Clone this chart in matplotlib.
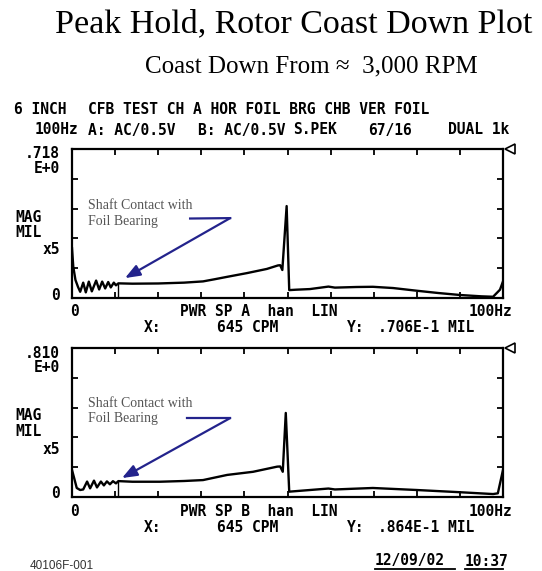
import matplotlib
matplotlib.use("Agg")
import matplotlib.pyplot as plt
from matplotlib.lines import Line2D

W, H = 542, 571

# channel A trace (Hz, MIL)
freq_a = [0, 0.3, 0.8, 1.4, 1.9, 2.6, 3.2, 3.9, 4.6, 5.6, 6.3, 7.0, 7.7, 8.4, 9.0,
          9.7, 10.2, 10.75, 14, 20, 26, 30.4, 33, 36, 40.6, 45.2, 47.8, 48.3, 48.8,
          49.8, 50.4, 52, 55.2, 59.5, 61, 66, 69.8, 74.5, 80, 85, 90, 95, 97.7, 99.3, 100]
val_a = [0.24, 0.15, 0.087, 0.053, 0.030, 0.074, 0.027, 0.079, 0.032, 0.084, 0.041,
         0.079, 0.046, 0.077, 0.051, 0.074, 0.061, 0.0706, 0.069, 0.070, 0.074, 0.080,
         0.090, 0.102, 0.120, 0.140, 0.157, 0.158, 0.135, 0.443, 0.038, 0.040, 0.043,
         0.055, 0.050, 0.053, 0.054, 0.048, 0.035, 0.024, 0.0145, 0.008, 0.006, 0.04, 0.08]

# channel B trace (Hz, MIL)
freq_b = [0, 0.5, 1.1, 1.9, 2.6, 3.5, 4.2, 5.1, 5.8, 6.7, 7.4, 8.1, 8.8, 9.5, 10.2,
          10.75, 14, 20.4, 26, 30.4, 36, 42, 47.6, 48.3, 48.9, 49.6, 50.4, 52, 59.5,
          61, 69.8, 80, 90, 97.7, 98.8, 100]
val_b = [0.147, 0.103, 0.049, 0.038, 0.041, 0.084, 0.047, 0.089, 0.052, 0.084, 0.063,
         0.085, 0.069, 0.086, 0.074, 0.0864, 0.083, 0.083, 0.087, 0.092, 0.12, 0.137,
         0.165, 0.166, 0.137, 0.457, 0.029, 0.032, 0.046, 0.041, 0.049, 0.038, 0.026,
         0.016, 0.02, 0.147]

full_scale = [0.718, 0.810]
scale_labels = [".718", ".810"]
channels = ["A", "B"]
cursor_cpm = 645
cursor_mil = [0.0706, 0.0864]
cursor_text = [".706E-1", ".864E-1"]

HP = dict(family="DejaVu Sans Mono", weight="bold", fontsize=10.5, color="black")
ARROW = "#23238c"


def put(x, y, s, **kw):
    kw.setdefault("va", "center")
    fig.text(x / W, 1 - y / H, s, **kw)


fig = plt.figure(figsize=(W / 100, H / 100), dpi=100)

put(294, 24, "Peak Hold, Rotor Coast Down Plot", family="Liberation Serif",
    fontsize=24.5, ha="center")
put(311, 66, "Coast Down From \u2248  3,000 RPM", family="Liberation Serif",
    fontsize=18, ha="center")

put(14, 110, "6 INCH", **HP)
put(88, 110, "CFB TEST CH A HOR FOIL BRG CHB VER FOIL", **HP)
for x, s in [(35, "100Hz"), (88, "A: AC/0.5V"), (198, "B: AC/0.5V"),
             (293, "S.PEK"), (368, "67/16"), (448, "DUAL 1k")]:
    put(x, 130, s, **HP)

traces = [(freq_a, val_a), (freq_b, val_b)]
tops = [149, 348]
for i, (f, v) in enumerate(traces):
    top = tops[i]
    fs = full_scale[i]
    ax = fig.add_axes([72 / W, 1 - (top + 149) / H, 431 / W, 149 / H])
    ax.plot(f, v, color="black", lw=1.7, solid_joinstyle="round")
    ax.vlines(cursor_cpm / 60, 0, cursor_mil[i], color="black", lw=1.0)
    ax.set_xlim(0, 100)
    ax.set_ylim(0, fs)
    ax.set_xticks(range(0, 101, 10))
    ax.set_yticks([fs * k / 5 for k in range(6)])
    ax.tick_params(direction="in", length=4, width=1.3, top=True, right=True,
                   labelbottom=False, labelleft=False)
    for sp in ax.spines.values():
        sp.set_linewidth(1.6)
    ax.plot([101.6], [fs], marker="<", ms=7, mfc="white", mec="black", mew=1.2,
            clip_on=False)

    # callout
    if i == 0:
        head, corner, start, txt = (12.3, 0.096), (36.7, 0.385), (27.4, 0.383), 0.407
    else:
        head, corner, start, txt = (11.6, 0.103), (36.7, 0.429), (26.7, 0.429), 0.4675
    ax.plot([start[0], corner[0]], [start[1], corner[1]], color=ARROW, lw=1.6)
    ax.annotate("", xy=head, xytext=corner,
                arrowprops=dict(arrowstyle="-|>,head_length=0.9,head_width=0.35",
                                color=ARROW, lw=1.6, shrinkA=0, shrinkB=0))
    ax.text(3.7, txt, "Shaft Contact with\nFoil Bearing",
            family="Liberation Serif", fontsize=10, color="#555555", va="center",
            linespacing=1.25)

    # left labels
    put(60, top + 5, scale_labels[i], ha="right", **HP)
    put(60, top + 19, "E+0", ha="right", **HP)
    put(15, top + 68, "MAG", **HP)
    put(15, top + 83, "MIL", **HP)
    put(60, top + 101, "x5", ha="right", **HP)
    put(60, top + 146, "0", ha="right", **HP)

    # bottom labels
    put(70, top + 163, "0", **HP)
    put(180, top + 163, "PWR SP %s  han  LIN" % channels[i], **HP)
    put(512, top + 163, "100Hz", ha="right", **HP)
    put(144, top + 179, "X:", **HP)
    put(217, top + 179, "%d CPM" % cursor_cpm, **HP)
    put(347, top + 179, "Y:", **HP)
    put(378, top + 179, "%s MIL" % cursor_text[i], **HP)

put(30, 566, "40106F-001", family="Liberation Sans", fontsize=8.5, color="#333333")
put(375, 561, "12/09/02", **HP)
put(465, 561, "10:37", **HP)
for x0, x1 in [(375, 455), (465, 503)]:
    fig.add_artist(Line2D([x0 / W, x1 / W], [1 - 569 / H, 1 - 569 / H],
                          color="black", lw=1.3))

fig.savefig("out.png", dpi=100)
